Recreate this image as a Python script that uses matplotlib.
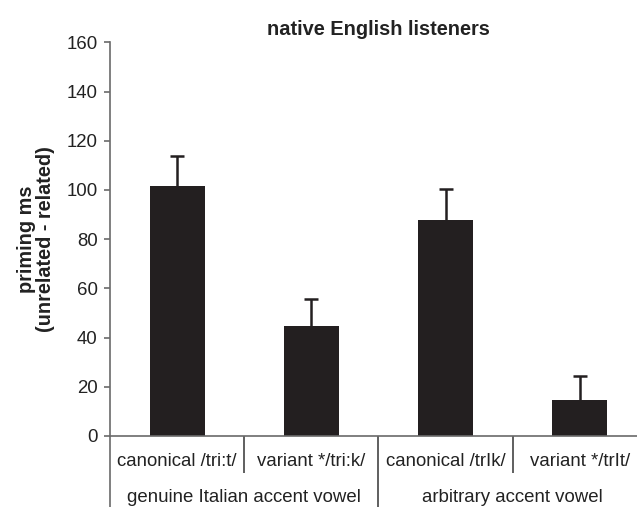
import matplotlib
matplotlib.use("Agg")
import matplotlib.pyplot as plt

plt.rcParams['font.family'] = ['Liberation Sans', 'DejaVu Sans']

# data
conditions = ["canonical /tri:t/", "variant */tri:k/", "canonical /trIk/", "variant */trIt/"]
priming = [101.5, 44.8, 88.0, 14.8]
err_up = [12.2, 11.0, 12.5, 9.4]
groups = ["genuine Italian accent vowel", "arbitrary accent vowel"]
yticks = [0, 20, 40, 60, 80, 100, 120, 140, 160]

dark = "#231f20"
grey = "#6a6a6a"

W, H = 637, 507
fig = plt.figure(figsize=(W / 100, H / 100), dpi=100)
# axes box in pixels: x 110..647, y 42..436 (right end runs past the canvas)
ax = fig.add_axes([110 / W, (H - 436) / H, (647 - 110) / W, (436 - 42.4) / H])

x = list(range(len(conditions)))
ax.bar(x, priming, width=0.41, color=dark, zorder=2)
eb = ax.errorbar(x, priming, yerr=[[0] * len(x), err_up], fmt="none",
                 ecolor=dark, elinewidth=1.8, capsize=5, capthick=1.8, zorder=3)
eb[1][0].set_visible(False)  # only the upper cap is drawn

ax.set_xlim(-0.5, len(conditions) - 0.5)
ax.set_ylim(0, 160)
ax.set_yticks(yticks)
ax.set_xticks([])
ax.tick_params(axis="y", direction="out", length=4, width=1.2, color=grey,
               pad=5, labelsize=13.4, labelcolor="#222222")

for s in ["top", "right"]:
    ax.spines[s].set_visible(False)
for s in ["left", "bottom"]:
    ax.spines[s].set_color(grey)
    ax.spines[s].set_linewidth(1.2)

tr = ax.get_xaxis_transform()
px = 1 / 393.6  # one pixel in axes-y units

# left axis runs down to the bottom of the figure
ax.plot([-0.5, -0.5], [0, -71 * px], transform=tr, color=grey, lw=1.2,
        clip_on=False, solid_capstyle="butt")
# dividers between conditions
for i in range(1, len(conditions)):
    depth = 71 if i == 2 else 36.7
    ax.plot([i - 0.5, i - 0.5], [0, -depth * px], transform=tr, color="#444444",
            lw=1.2, clip_on=False, solid_capstyle="butt")

for i, lab in enumerate(conditions):
    ax.text(i, -25.7 * px, lab, transform=tr, ha="center", va="center",
            fontsize=13.4, color="#222222")
for g, lab in enumerate(groups):
    ax.text(2 * g + 0.5, -62 * px, lab, transform=tr, ha="center", va="center",
            fontsize=13.4, color="#222222")

fig.text(((110 + 647) / 2) / W, (H - 35) / H, "native English listeners",
         ha="center", va="baseline", fontsize=14.4, fontweight="bold", color="#222222")
fig.text(36 / W, (H - 239) / H, "priming ms\n(unrelated - related)", rotation=90,
         ha="center", va="center", multialignment="center", fontsize=14.3,
         fontweight="bold", color="#222222", linespacing=1.0)

fig.savefig("out.png", dpi=100)
